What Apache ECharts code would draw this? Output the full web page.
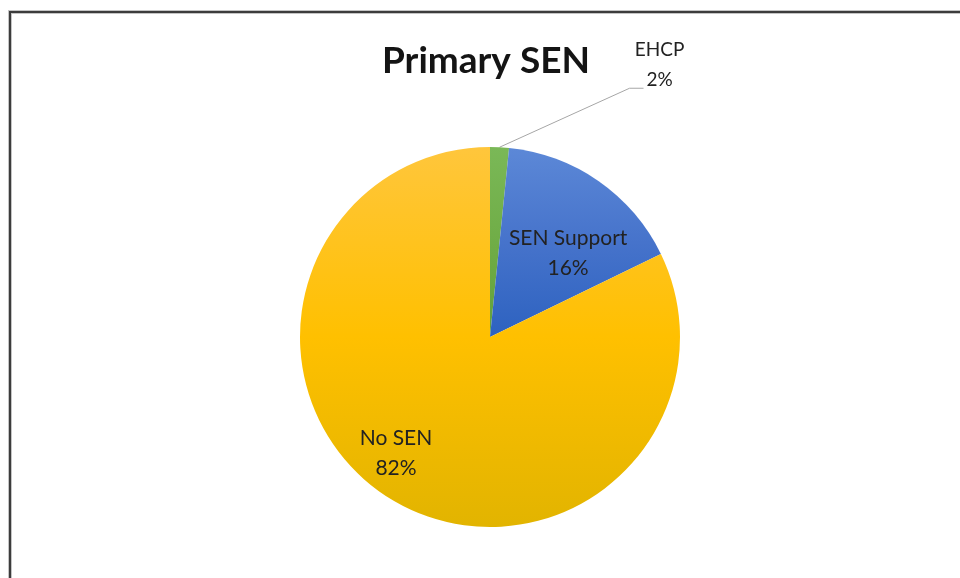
<!DOCTYPE html>
<html>
<head>
<meta charset="utf-8">
<script src="https://cdn.jsdelivr.net/npm/echarts@6/dist/echarts.min.js"></script>
<style>
  html, body { margin: 0; padding: 0; background: #fff; }
  #chart { width: 960px; height: 578px; }
</style>
</head>
<body>
<div id="chart"></div>
<script>
// categories and shares (percent)
const categories = ['EHCP', 'SEN Support', 'No SEN'];
const shares = [1.6, 16.2, 82.2];
const titleText = 'Primary SEN';

function vGrad(top, mid, bottom) {
    return new echarts.graphic.LinearGradient(0, 0, 0, 1, [
        { offset: 0, color: top },
        { offset: 0.5, color: mid },
        { offset: 1, color: bottom }
    ]);
}

const fills = [
    vGrad('#7AB857', '#70AD47', '#62A03A'),
    vGrad('#5C88D7', '#4673CB', '#2D62C0'),
    vGrad('#FFC63C', '#FFC000', '#E2B400')
];

// where the inside labels sit, relative to the library's default spot
const labelOffsets = [null, [22, -3], [-42, 33]];

var myChart = echarts.init(document.getElementById('chart'));

let option = {
    animation: false,
    title: {
        text: titleText,
        left: 377,
        top: 38,
        textStyle: {
            fontFamily: 'Lato',
            fontWeight: 'bold',
            fontSize: 37,
            color: '#141414'
        }
    },
    graphic: [
        {
            type: 'rect',
            shape: { x: 10, y: 12, width: 1000, height: 700 },
            style: { fill: 'none', stroke: '#c4c4c4', lineWidth: 4 }
        },
        {
            type: 'rect',
            shape: { x: 10, y: 12, width: 1000, height: 700 },
            style: { fill: 'none', stroke: '#3c3c3c', lineWidth: 2 }
        }
    ],
    series: [
        {
            type: 'pie',
            center: [490, 337],
            radius: 190,
            startAngle: 90,
            clockwise: true,
            emphasis: { disabled: true },
            label: {
                fontFamily: 'Lato',
                fontSize: 21,
                lineHeight: 30,
                color: '#222',
                formatter: p => p.name + '\n' + Math.round(p.percent) + '%'
            },
            labelLine: {
                lineStyle: { color: '#a6a6a6', width: 1 }
            },
            labelLayout: function (p) {
                if (p.dataIndex !== 0 || !p.labelLinePoints) return;
                const s = p.labelLinePoints[0];
                return {
                    x: s[0] + 160,
                    y: s[1] - 82,
                    align: 'center',
                    verticalAlign: 'middle',
                    labelLinePoints: [s, [s[0] + 130, s[1] - 59], [s[0] + 144, s[1] - 59]]
                };
            },
            data: categories.map((name, i) => ({
                name: name,
                value: shares[i],
                itemStyle: { color: fills[i] },
                label: i === 0
                    ? { position: 'outside', align: 'center', fontSize: 19 }
                    : { position: 'inside', offset: labelOffsets[i] },
                labelLine: { show: i === 0 }
            }))
        }
    ]
};

myChart.setOption(option);
</script>
</body>
</html>
